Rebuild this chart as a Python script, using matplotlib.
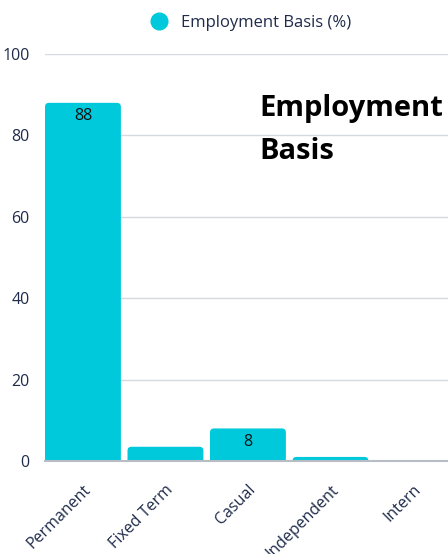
import numpy as np
import matplotlib
matplotlib.use('Agg')
import matplotlib.pyplot as plt
from matplotlib.patches import FancyBboxPatch
from matplotlib.lines import Line2D

categories = ['Permanent', 'Fixed Term', 'Casual', 'Independent', 'Intern']
values = [88, 3.5, 8, 1, 0]
bar_labels = ['88', '', '8', '', '']
yticks = [0, 20, 40, 60, 80, 100]

bar_color = '#00c9db'
text_color = '#1e2b4a'

plt.rcParams['font.family'] = ['Open Sans', 'DejaVu Sans']

fig = plt.figure(figsize=(4.48, 5.54), dpi=100)
ax = fig.add_axes([45 / 448, (554 - 461) / 554, 403 / 448, (461 - 54) / 554])

x = np.arange(len(categories))
bars = ax.bar(x, values, width=0.92, color=bar_color)

# swap plain bars for round-topped ones
px_x = 82.5
px_y = 4.07
r = 4.0
for b in bars:
    b.set_visible(False)
    if b.get_height() <= 0:
        continue
    bx, bw, bh = b.get_x(), b.get_width(), b.get_height()
    rx = r / px_x
    patch = FancyBboxPatch((bx + rx, -5), bw - 2 * rx, bh + 5 - r / px_y,
                           boxstyle=f"round,pad={rx}",
                           mutation_aspect=px_x / px_y,
                           facecolor=bar_color, edgecolor='none', zorder=2)
    ax.add_patch(patch)

for xi, v, lab in zip(x, values, bar_labels):
    if lab:
        ax.text(xi, v - 3.3, lab, ha='center', va='center', fontsize=11.5,
                color='#111111', zorder=3)

ax.set_xlim(-0.46, 4.425)
ax.set_ylim(0, 100)
ax.set_yticks(yticks)
ax.set_yticklabels([str(t) for t in yticks])
ax.set_xticks(x)
ax.set_xticklabels(categories, rotation=45, ha='right', va='top',
                   rotation_mode='anchor')
ax.tick_params(axis='both', length=0, labelsize=11.5, colors=text_color)
ax.tick_params(axis='y', pad=11)
ax.tick_params(axis='x', pad=15)

ax.grid(axis='y', color='#d5d9e0', linewidth=1)
ax.set_axisbelow(True)
for s in ['top', 'right', 'left']:
    ax.spines[s].set_visible(False)
ax.spines['bottom'].set_color('#b8bcc4')
ax.spines['bottom'].set_linewidth(1.5)

fig.text(259 / 448, 1 - 130 / 554, 'Employment\nBasis', fontsize=21,
         fontweight='bold', color='#000000', ha='left', va='center',
         linespacing=1.65)

handle = Line2D([], [], marker='o', linestyle='none', markersize=12,
                markerfacecolor=bar_color, markeredgecolor=bar_color)
fig.legend([handle], ['Employment Basis (%)'], loc='center',
           bbox_to_anchor=(247 / 448, 1 - 23 / 554), frameon=False,
           fontsize=12, labelcolor=text_color, handletextpad=0.3,
           borderaxespad=0)

fig.savefig('out.png', dpi=100)
